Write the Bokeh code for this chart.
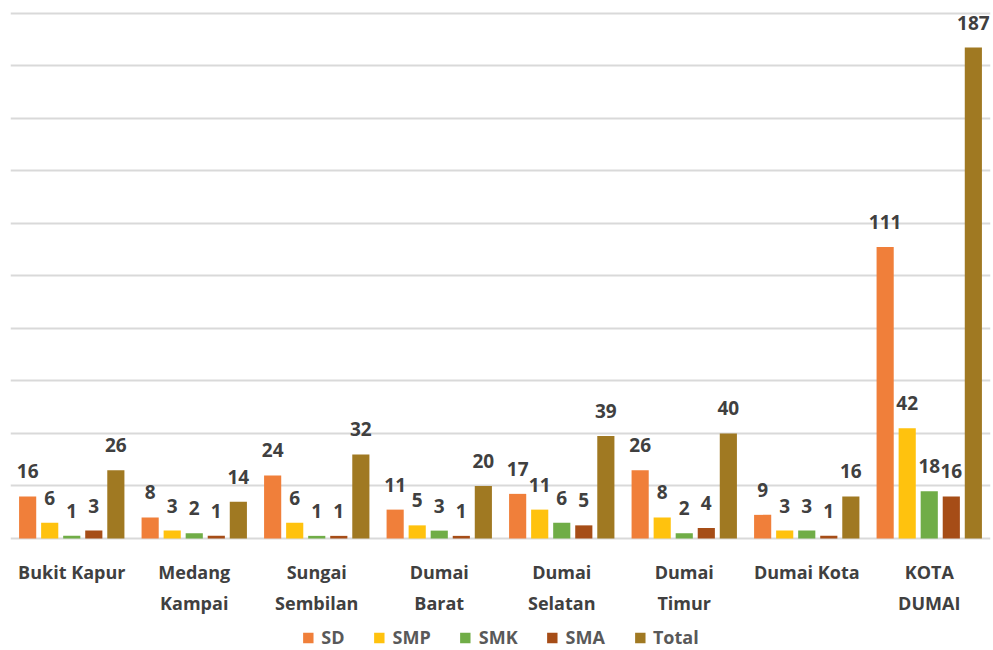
from bokeh.plotting import figure
from bokeh.models import ColumnDataSource, FactorRange, Range1d, Legend, LegendItem
from bokeh.core.properties import value
from bokeh.transform import dodge
from bokeh.embed import file_html
from bokeh.resources import INLINE

categories = ["Bukit Kapur", "Medang Kampai", "Sungai Sembilan", "Dumai Barat",
              "Dumai Selatan", "Dumai Timur", "Dumai Kota", "KOTA DUMAI"]
tick_labels = ["Bukit Kapur", "Medang\nKampai", "Sungai\nSembilan", "Dumai\nBarat",
               "Dumai\nSelatan", "Dumai\nTimur", "Dumai Kota", "KOTA\nDUMAI"]
series = ["SD", "SMP", "SMK", "SMA", "Total"]
SD = [16, 8, 24, 11, 17, 26, 9, 111]
SMP = [6, 3, 6, 5, 11, 8, 3, 42]
SMK = [1, 2, 1, 3, 6, 2, 3, 18]
SMA = [3, 1, 1, 1, 5, 4, 1, 16]
Total = [26, 14, 32, 20, 39, 40, 16, 187]
grid_ticks = [0, 20, 40, 60, 80, 100, 120, 140, 160, 180, 200]
colors = ["#F07F3A", "#FFC20E", "#70AD47", "#A64D17", "#A07922"]

data = {"cat": categories, "tick": tick_labels, "zero": [0] * len(categories),
        "SD": SD, "SMP": SMP, "SMK": SMK, "SMA": SMA, "Total": Total}
for s in series:
    data[s + "_lbl"] = [str(v) for v in data[s]]
source = ColumnDataSource(data)

FONT = "Open Sans"
TXT = "#404040"

p = figure(x_range=FactorRange(*categories, range_padding=0, factor_padding=0),
           y_range=Range1d(-42.67, 204.95),
           width=993, height=650, output_backend="svg", toolbar_location=None,
           min_border_left=10, min_border_right=3, min_border_top=0, min_border_bottom=0)
p.outline_line_color = None
p.background_fill_color = "white"
p.border_fill_color = "white"
p.xaxis.visible = False
p.yaxis.visible = False
p.xgrid.grid_line_color = None
p.ygrid.grid_line_color = "#D9D9D9"
p.ygrid.grid_line_width = 2
p.ygrid.ticker = grid_ticks

offsets = [-0.36, -0.18, 0.0, 0.18, 0.36]
items = []
for s, off, c in zip(series, offsets, colors):
    r = p.vbar(x=dodge("cat", off, range=p.x_range), top=s, width=0.14, bottom=0,
               source=source, fill_color=c, line_color=None)
    items.append(LegendItem(label=s, renderers=[r]))
    p.text(x=dodge("cat", off, range=p.x_range), y=s, text=s + "_lbl", source=source,
           y_offset=-25, text_align="center", text_baseline="alphabetic",
           text_font=value(FONT), text_font_style="bold", text_font_size="19px",
           text_color=TXT)

# category labels below the baseline
p.text(x="cat", y="zero", text="tick", source=source, y_offset=22,
       text_align="center", text_baseline="top", text_line_height=1.28,
       text_font=value(FONT), text_font_style="bold", text_font_size="18px",
       text_color=TXT)

legend = Legend(items=items, orientation="horizontal", location="bottom_center",
                label_text_font=FONT, label_text_font_style="bold", label_text_font_size="18px",
                label_text_color="#595959", glyph_width=13, glyph_height=13, spacing=28,
                label_standoff=7, border_line_color=None, background_fill_alpha=0,
                padding=0, margin=1)
p.add_layout(legend)

open("out.html", "w").write(file_html(p, INLINE))
